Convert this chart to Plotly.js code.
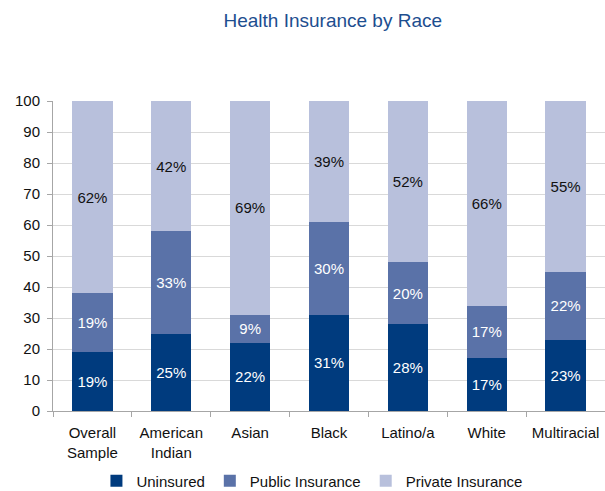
<!DOCTYPE html>
<html>
<head>
<meta charset="utf-8">
<script src="https://cdn.plot.ly/plotly-3.0.1.min.js"></script>
<style>html,body{margin:0;padding:0;background:#fff;}#chart{width:605px;height:491px;}</style>
</head>
<body>
<div id="chart"></div>
<script>
const categories = ["Overall<br>Sample", "American<br>Indian", "Asian", "Black", "Latino/a", "White", "Multiracial"];
const uninsured = [19, 25, 22, 31, 28, 17, 23];
const publicIns = [19, 33, 9, 30, 20, 17, 22];
const privateIns = [62, 42, 69, 39, 52, 66, 55];
const seriesNames = ["Uninsured", "Public Insurance", "Private Insurance"];

const FONT = "Liberation Sans, Arial, Helvetica, sans-serif";
function mk(name, vals, color, txtColor) {
  return {
    type: "bar", name: name, x: categories, y: vals,
    marker: {color: color, line: {width: 0}},
    text: vals.map(v => v + "%"), textposition: "inside", insidetextanchor: "middle",
    textfont: {family: FONT, size: 15, color: txtColor}, constraintext: "none",
    hoverinfo: "skip"
  };
}
const data = [
  mk(seriesNames[0], uninsured, "#003b7e", "#ffffff"),
  mk(seriesNames[1], publicIns, "#5a72a8", "#ffffff"),
  mk(seriesNames[2], privateIns, "#b8c0dc", "#111111")
];
const layout = {
  width: 605, height: 491,
  margin: {l: 53, r: 0, t: 101, b: 80, autoexpand: false},
  paper_bgcolor: "#fff", plot_bgcolor: "#fff",
  font: {family: FONT, size: 15, color: "#111"},
  barmode: "stack", bargap: 0.49,
  title: {text: "Health Insurance by Race", font: {family: FONT, size: 19, color: "#1d4e8f"},
          x: 0.55, xanchor: "center", y: 1 - 20/491, yanchor: "middle", yref: "container"},
  xaxis: {type: "category", showgrid: false, showline: true, linecolor: "#a6a6a6", linewidth: 1,
          ticks: "outside", tickson: "boundaries", ticklen: 5, tickcolor: "#a6a6a6",
          ticklabelstandoff: 8, automargin: false,
          tickfont: {family: FONT, size: 15, color: "#111"}},
  yaxis: {range: [0, 100], dtick: 10, showgrid: true, gridcolor: "#d9d9d9", gridwidth: 1,
          showline: true, linecolor: "#a6a6a6", linewidth: 1, ticks: "outside", ticklen: 5,
          tickcolor: "#a6a6a6", zeroline: false, ticklabelstandoff: 4, automargin: false,
          tickfont: {family: FONT, size: 15, color: "#111"}},
  legend: {orientation: "h", x: 0.47, xanchor: "center", y: (411 - 481) / 310, yanchor: "middle",
           font: {family: FONT, size: 15, color: "#111"}, traceorder: "normal"},
  showlegend: true
};
Plotly.newPlot("chart", data, layout, {staticPlot: true, displayModeBar: false});
</script>
</body>
</html>
